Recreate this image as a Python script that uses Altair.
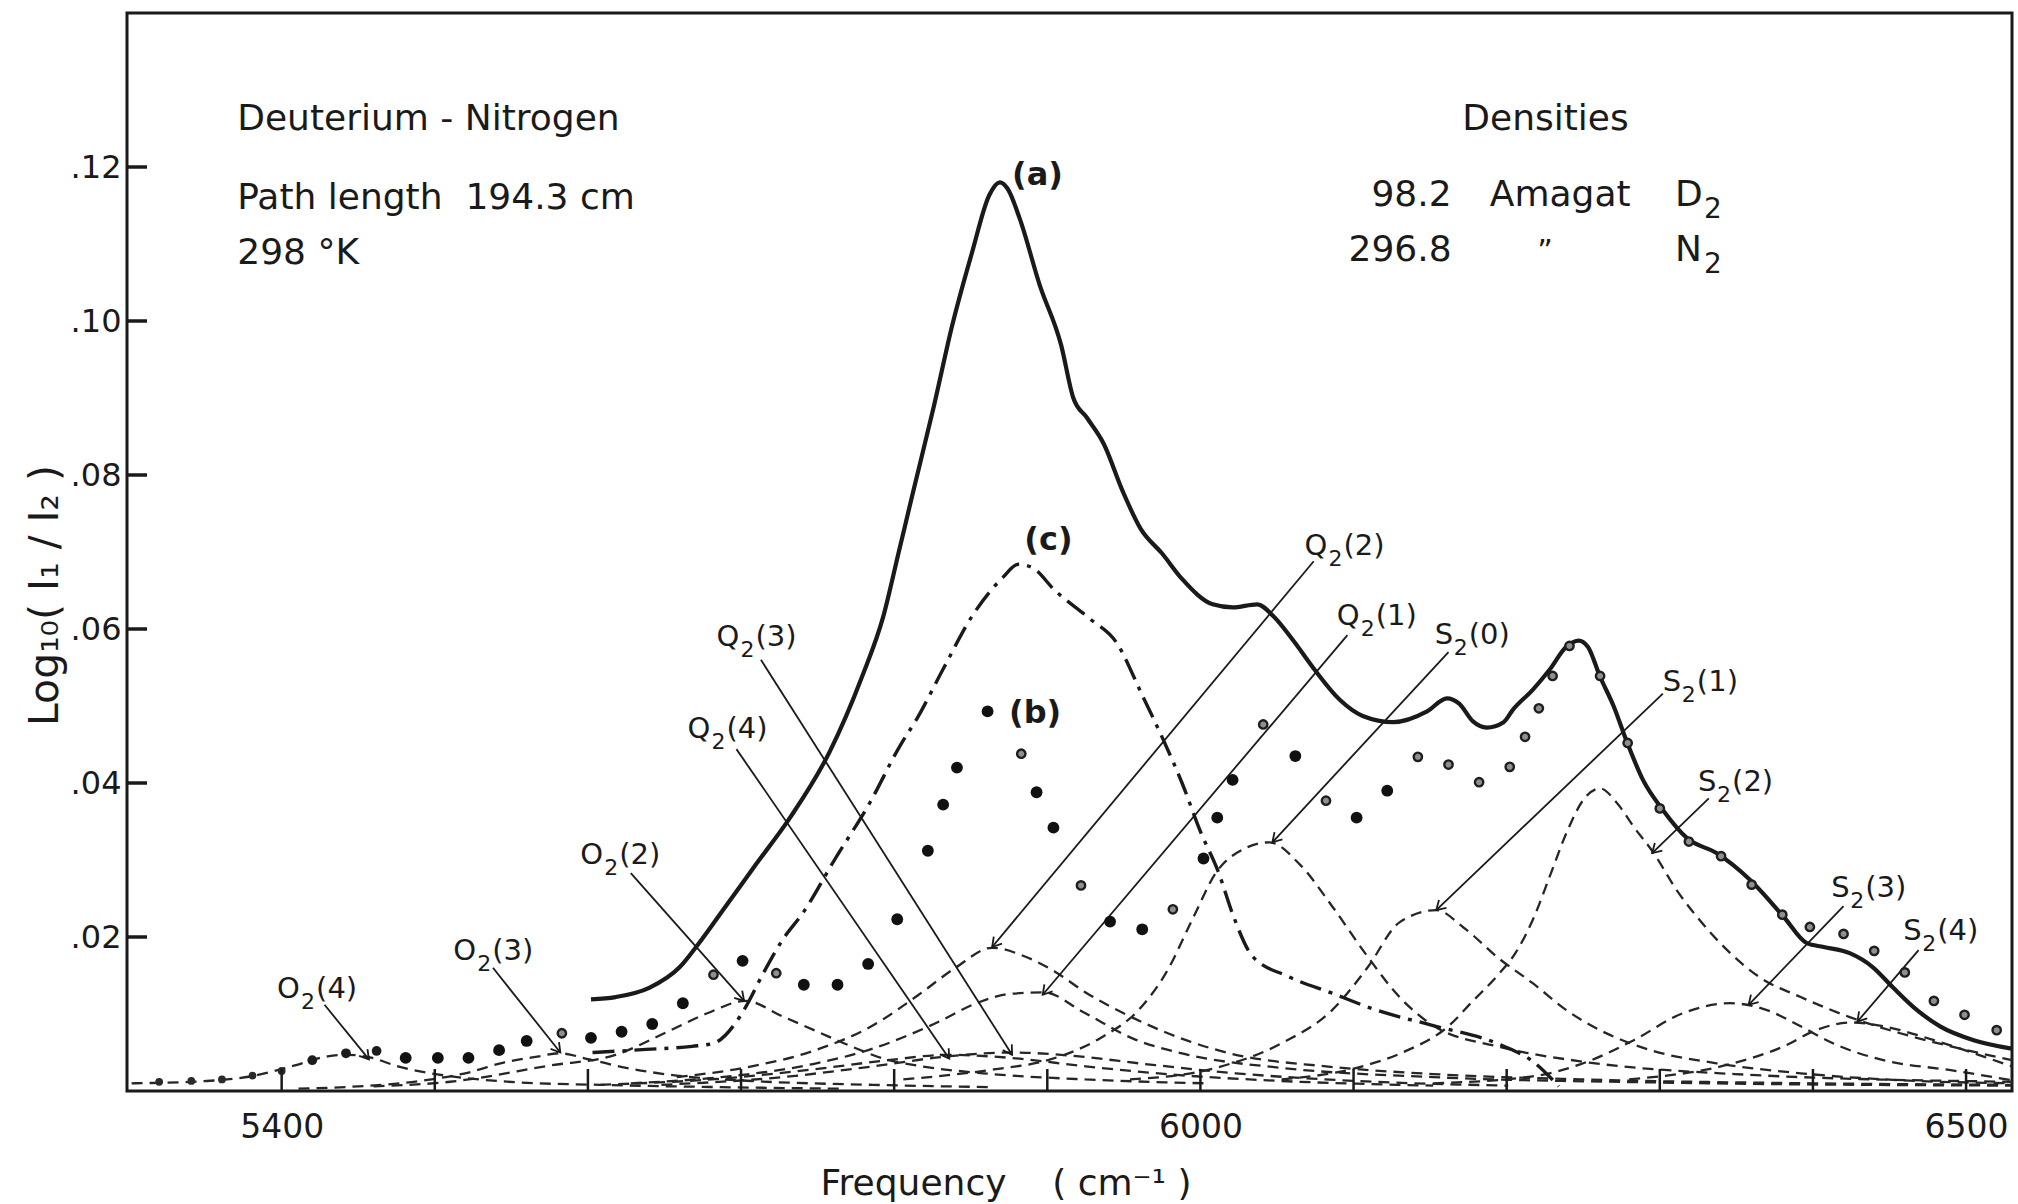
import math
import altair as alt
import pandas as pd

# ---------------- axes ----------------
X_DOMAIN = [5299, 6530]
Y_DOMAIN = [0, 0.14]
X_LABEL_VALUES = [5400, 6000, 6500]
X_TICK_VALUES = [5400, 5500, 5600, 5700, 5800, 5900, 6000, 6100, 6200, 6300, 6400, 6500]
Y_TICK_VALUES = [0.02, 0.04, 0.06, 0.08, 0.10, 0.12]

# ---------------- curve (a): solid ----------------
A_X = [5602, 5618, 5640, 5660, 5671, 5690, 5710, 5732, 5758, 5779, 5793, 5803, 5812, 5826,
       5838, 5851, 5862, 5869, 5874, 5882, 5895, 5909, 5917, 5926, 5937, 5949, 5961, 5975,
       5988, 6008, 6021, 6037, 6048, 6061, 6075, 6091, 6106, 6126, 6148, 6161, 6169, 6178,
       6187, 6198, 6204, 6217, 6228, 6239, 6247, 6253, 6261, 6270, 6278, 6289, 6302, 6318,
       6337, 6359, 6381, 6396, 6407, 6424, 6439, 6452, 6468, 6483, 6505, 6530]
A_Y = [0.0119, 0.0122, 0.0134, 0.0161, 0.0188, 0.0240, 0.0295, 0.0355, 0.0441, 0.0538,
       0.0617, 0.0700, 0.0775, 0.0890, 0.0995, 0.1090, 0.1163, 0.1180, 0.1172, 0.1133,
       0.1047, 0.0969, 0.0900, 0.0874, 0.0840, 0.0780, 0.0730, 0.0698, 0.0665, 0.0632,
       0.0628, 0.0632, 0.0616, 0.0584, 0.0546, 0.0508, 0.0487, 0.0479, 0.0493, 0.0510,
       0.0503, 0.0480, 0.0472, 0.0479, 0.0495, 0.0521, 0.0547, 0.0577, 0.0585, 0.0577,
       0.0538, 0.0499, 0.0456, 0.0404, 0.0365, 0.0328, 0.0309, 0.0274, 0.0226, 0.0192,
       0.0187, 0.0179, 0.0161, 0.0135, 0.0105, 0.0084, 0.0066, 0.0055]

# ---------------- curve (c): dash-dot ----------------
C_X = [5603, 5638, 5668, 5682, 5697, 5703, 5714, 5727, 5741, 5761, 5784, 5804, 5815, 5832,
       5851, 5871, 5881, 5890, 5905, 5928, 5945, 5962, 5976, 5988, 6000, 6012, 6021, 6034,
       6057, 6086, 6115, 6152, 6196, 6218, 6234]
C_Y = [0.0050, 0.0054, 0.0058, 0.0062, 0.0090, 0.0109, 0.0151, 0.0196, 0.0233, 0.0300,
       0.0374, 0.0449, 0.0484, 0.0548, 0.0617, 0.0667, 0.0684, 0.0680, 0.0650, 0.0613,
       0.0583, 0.0514, 0.0455, 0.0400, 0.0337, 0.0283, 0.0230, 0.0175, 0.0149, 0.0127,
       0.0105, 0.0085, 0.0060, 0.0037, 0.0006]

# ---------------- points (b) ----------------
B_X = [5320, 5341, 5361, 5381, 5400, 5420, 5442, 5462, 5481, 5502, 5522, 5542, 5560, 5583,
       5602, 5622, 5642, 5662, 5682, 5701, 5723, 5741, 5763, 5783, 5802, 5822, 5832, 5841,
       5861, 5883, 5893, 5904, 5922, 5941, 5962, 5982, 6002, 6011, 6021, 6041, 6062, 6082,
       6102, 6122, 6142, 6162, 6182, 6202, 6212, 6221, 6230, 6241, 6261, 6279, 6300, 6319,
       6340, 6360, 6380, 6398, 6420, 6440, 6460, 6479, 6499, 6520]
B_Y = [0.0012, 0.0013, 0.0015, 0.0020, 0.0026, 0.0040, 0.0049, 0.0052, 0.0043, 0.0043,
       0.0043, 0.0053, 0.0065, 0.0075, 0.0069, 0.0077, 0.0087, 0.0114, 0.0151, 0.0169,
       0.0153, 0.0138, 0.0138, 0.0165, 0.0223, 0.0312, 0.0372, 0.0420, 0.0493, 0.0438,
       0.0388, 0.0342, 0.0267, 0.0220, 0.0210, 0.0236, 0.0302, 0.0355, 0.0404, 0.0476,
       0.0435, 0.0377, 0.0355, 0.0390, 0.0434, 0.0424, 0.0401, 0.0421, 0.0460, 0.0497,
       0.0539, 0.0578, 0.0539, 0.0452, 0.0367, 0.0324, 0.0305, 0.0268, 0.0229, 0.0213,
       0.0204, 0.0182, 0.0154, 0.0117, 0.0099, 0.0079]
B_KIND = ["small", "small", "small", "small", "small", "mid", "mid", "mid", "big", "big",
          "big", "big", "big", "ring", "big", "big", "big", "big", "ring", "big",
          "ring", "big", "big", "big", "big", "big", "big", "big", "big", "ring",
          "big", "big", "ring", "big", "big", "ring", "big", "big", "big", "ring",
          "big", "ring", "big", "big", "ring", "ring", "ring", "ring", "ring", "ring",
          "ring", "ring", "ring", "ring", "ring", "ring", "ring", "ring", "ring", "ring",
          "ring", "ring", "ring", "ring", "ring", "ring"]

# ---------------- dashed component bands ----------------
O2_4_X = [5302, 5351, 5380, 5410, 5430, 5442, 5457, 5476, 5494, 5511, 5556, 5608, 5687, 5766]
O2_4_Y = [0.0010, 0.0013, 0.0019, 0.0034, 0.0045, 0.0047, 0.0044, 0.0032, 0.0024, 0.0019,
          0.0011, 0.0008, 0.0005, 0.0003]
O2_3_X = [5411, 5450, 5490, 5522, 5545, 5568, 5581, 5601, 5625, 5658, 5707, 5786, 5865]
O2_3_Y = [0.0003, 0.0006, 0.0013, 0.0024, 0.0037, 0.0045, 0.0049, 0.0041, 0.0030, 0.0020,
          0.0013, 0.0008, 0.0005]
O2_2_X = [5460, 5510, 5575, 5618, 5652, 5678, 5703, 5727, 5750, 5772, 5793, 5815, 5858, 5925, 6003]
O2_2_Y = [0.0006, 0.0012, 0.0033, 0.0047, 0.0077, 0.0101, 0.0117, 0.0097, 0.0077, 0.0058,
          0.0042, 0.0033, 0.0023, 0.0015, 0.0010]
Q2_4_X = [5608, 5687, 5747, 5796, 5835, 5876, 5925, 5984, 6053, 6152]
Q2_4_Y = [0.0008, 0.0016, 0.0028, 0.0040, 0.0047, 0.0043, 0.0032, 0.0021, 0.0013, 0.0007]
Q2_3_X = [5648, 5727, 5786, 5835, 5878, 5915, 5964, 6023, 6102, 6201]
Q2_3_Y = [0.0008, 0.0018, 0.0032, 0.0045, 0.0050, 0.0046, 0.0035, 0.0023, 0.0013, 0.0007]
Q2_2_X = [5658, 5707, 5747, 5786, 5816, 5840, 5864, 5885, 5905, 5925, 5956, 5992, 6021, 6082,
          6152, 6250, 6399, 6530]
Q2_2_Y = [0.0018, 0.0032, 0.0052, 0.0085, 0.0125, 0.0160, 0.0186, 0.0175, 0.0155, 0.0128,
          0.0095, 0.0065, 0.0048, 0.0032, 0.0022, 0.0015, 0.0010, 0.0008]
Q2_1_X = [5628, 5687, 5747, 5786, 5826, 5855, 5875, 5898, 5923, 5956, 5992, 6053, 6152, 6300, 6530]
Q2_1_Y = [0.0010, 0.0018, 0.0035, 0.0055, 0.0087, 0.0115, 0.0126, 0.0128, 0.0103, 0.0068,
          0.0047, 0.0030, 0.0018, 0.0011, 0.0007]
S2_0_X = [5806, 5865, 5902, 5934, 5960, 5978, 5995, 6010, 6028, 6045, 6065, 6086, 6109, 6130,
          6152, 6196, 6250, 6349, 6530]
S2_0_Y = [0.0015, 0.0028, 0.0041, 0.0068, 0.0106, 0.0155, 0.0224, 0.0283, 0.0314, 0.0323,
          0.0294, 0.0240, 0.0175, 0.0122, 0.0085, 0.0057, 0.0038, 0.0022, 0.0012]
S2_1_X = [5954, 6010, 6054, 6086, 6109, 6130, 6154, 6172, 6195, 6217, 6239, 6261, 6294, 6337,
          6392, 6457, 6530]
S2_1_Y = [0.0015, 0.0030, 0.0063, 0.0105, 0.0160, 0.0219, 0.0235, 0.0212, 0.0172, 0.0140,
          0.0105, 0.0079, 0.0053, 0.0036, 0.0023, 0.0014, 0.0010]
S2_2_X = [6053, 6102, 6132, 6163, 6177, 6194, 6206, 6217, 6228, 6239, 6250, 6261, 6272, 6283,
          6296, 6311, 6326, 6344, 6365, 6392, 6424, 6457, 6490, 6530]
S2_2_Y = [0.0015, 0.0030, 0.0050, 0.0086, 0.0115, 0.0150, 0.0180, 0.0222, 0.0278, 0.0335,
          0.0378, 0.0393, 0.0374, 0.0343, 0.0309, 0.0261, 0.0222, 0.0183, 0.0148, 0.0122,
          0.0096, 0.0075, 0.0058, 0.0040]
S2_3_X = [6152, 6217, 6250, 6283, 6315, 6346, 6370, 6392, 6413, 6446, 6490, 6530]
S2_3_Y = [0.0010, 0.0019, 0.0036, 0.0066, 0.0101, 0.0114, 0.0105, 0.0084, 0.0062, 0.0040,
          0.0027, 0.0014]
S2_4_X = [6280, 6348, 6381, 6402, 6425, 6446, 6479, 6511, 6530]
S2_4_Y = [0.0015, 0.0036, 0.0058, 0.0079, 0.0089, 0.0084, 0.0066, 0.0045, 0.0032]

COMPONENT_NAMES = ["O2(4)", "O2(3)", "O2(2)", "Q2(4)", "Q2(3)", "Q2(2)", "Q2(1)",
                   "S2(0)", "S2(1)", "S2(2)", "S2(3)", "S2(4)"]
COMPONENT_XS = [O2_4_X, O2_3_X, O2_2_X, Q2_4_X, Q2_3_X, Q2_2_X, Q2_1_X,
                S2_0_X, S2_1_X, S2_2_X, S2_3_X, S2_4_X]
COMPONENT_YS = [O2_4_Y, O2_3_Y, O2_2_Y, Q2_4_Y, Q2_3_Y, Q2_2_Y, Q2_1_Y,
                S2_0_Y, S2_1_Y, S2_2_Y, S2_3_Y, S2_4_Y]

# ---------------- band labels (letter, subscript 2, "(J)") and arrows ----------------
LABEL_LETTER = ["O", "O", "O", "Q", "Q", "Q", "Q", "S", "S", "S", "S", "S"]
LABEL_SUB = ["2"] * 12
LABEL_J = ["(4)", "(3)", "(2)", "(4)", "(3)", "(2)", "(1)", "(0)", "(1)", "(2)", "(3)", "(4)"]
LABEL_X = [5397, 5512, 5595, 5665, 5684, 6068, 6089, 6153, 6302, 6325, 6412, 6459]
LABEL_Y = [0.0121, 0.0170, 0.0295, 0.0459, 0.0578, 0.0696, 0.0605, 0.0581, 0.0519, 0.0389,
           0.0252, 0.0196]
ARROW_X0 = [5428, 5538, 5628, 5697, 5713, 6074, 6096, 6162, 6302, 6332, 6420, 6469]
ARROW_Y0 = [0.0112, 0.0160, 0.0283, 0.0444, 0.0560, 0.0688, 0.0592, 0.0570, 0.0516, 0.0380,
            0.0240, 0.0183]
ARROW_X1 = [5457, 5582, 5702, 5836, 5877, 5864, 5897, 6047, 6154, 6295, 6358, 6429]
ARROW_Y1 = [0.0041, 0.0050, 0.0117, 0.0042, 0.0047, 0.0187, 0.0125, 0.0323, 0.0235, 0.0309,
            0.0112, 0.0090]

TAG_TEXT = ["(a)", "(b)", "(c)"]
TAG_X = [5877, 5875, 5885]
TAG_Y = [0.1176, 0.0478, 0.0703]

# ---------------- header text ----------------
NB = "\u00a0"
INFO_LEFT_TEXT = ["Deuterium - Nitrogen", "Path" + NB + "length" + NB + NB + "194.3" + NB + "cm",
                  "298" + NB + "°K", "Densities", "Amagat", "D", "N"]
INFO_LEFT_X = [5371, 5371, 5371, 6171, 6189, 6310, 6310]
INFO_LEFT_Y = [0.1248, 0.1146, 0.1074, 0.1248, 0.1149, 0.1149, 0.1078]
INFO_SUB_TEXT = ["2", "2"]
INFO_SUB_X = [6310, 6310]
INFO_SUB_Y = [0.1149, 0.1078]
INFO_RIGHT_TEXT = ["98.2", "296.8"]
INFO_RIGHT_X = [6164, 6164]
INFO_RIGHT_Y = [0.1149, 0.1078]
INFO_CENTER_TEXT = ["\u201d"]
INFO_CENTER_X = [6225]
INFO_CENTER_Y = [0.1078]

# ---------------- layout / style ----------------
W, H = 1885, 1078
FONT = "DejaVu Sans"
INK = "#1a1a1a"
LBL = 29      # band-label font size
SUB = 22      # band-label subscript size

xscale = alt.Scale(domain=X_DOMAIN, nice=False, zero=False)
yscale = alt.Scale(domain=Y_DOMAIN, nice=False, zero=False)
XAXIS = alt.Axis(values=X_LABEL_VALUES, format="d", grid=False, domain=False, ticks=False,
                 labelFontSize=33, labelPadding=20, labelFont=FONT, labelColor=INK,
                 title="Frequency" + NB * 4 + "(" + NB + "cm⁻¹" + NB + ")",
                 titleFont=FONT, titleFontSize=36,
                 titleFontWeight="normal", titleColor=INK, titleAnchor="start",
                 titleX=693, titleY=103, titleBaseline="alphabetic")
YAXIS = alt.Axis(values=Y_TICK_VALUES, grid=False, domain=False, ticks=False,
                 labelExpr="replace(format(datum.value, '.2f'), '0.', '.')",
                 labelFontSize=32, labelPadding=6, labelFont=FONT, labelColor=INK,
                 title="Log₁₀(" + NB + "I₁" + NB + "/" + NB + "I₂" + NB + ")",
                 titleFont=FONT, titleFontSize=41,
                 titleFontWeight="normal", titleColor=INK, titleAngle=270,
                 titleX=-70, titleY=582, titleAlign="center", titleBaseline="alphabetic")


def X(field):
    return alt.X(f"{field}:Q", scale=xscale, axis=XAXIS)


def Y(field):
    return alt.Y(f"{field}:Q", scale=yscale, axis=YAXIS)


# ---------------- data frames ----------------
comp_rows = []
for name, xs, ys in zip(COMPONENT_NAMES, COMPONENT_XS, COMPONENT_YS):
    for i, (xv, yv) in enumerate(zip(xs, ys)):
        comp_rows.append({"comp": name, "i": i, "x": xv, "y": yv})
comp_df = pd.DataFrame(comp_rows)
a_df = pd.DataFrame({"x": A_X, "y": A_Y, "i": range(len(A_X))})
c_df = pd.DataFrame({"x": C_X, "y": C_Y, "i": range(len(C_X))})
b_df = pd.DataFrame({"x": B_X, "y": B_Y, "kind": B_KIND})

sx = W / (X_DOMAIN[1] - X_DOMAIN[0])
sy = H / (Y_DOMAIN[1] - Y_DOMAIN[0])
angles = [math.degrees(math.atan2(-(y1 - y0) * sy, (x1 - x0) * sx)) % 360
          for x0, y0, x1, y1 in zip(ARROW_X0, ARROW_Y0, ARROW_X1, ARROW_Y1)]
arrow_df = pd.DataFrame({"x0": ARROW_X0, "y0": ARROW_Y0, "x1": ARROW_X1, "y1": ARROW_Y1,
                         "ang": angles})
label_df = pd.DataFrame({"x": LABEL_X, "y": LABEL_Y, "letter": LABEL_LETTER,
                         "sub": LABEL_SUB, "j": LABEL_J})
tag_df = pd.DataFrame({"x": TAG_X, "y": TAG_Y, "t": TAG_TEXT})
info_l = pd.DataFrame({"x": INFO_LEFT_X, "y": INFO_LEFT_Y, "t": INFO_LEFT_TEXT})
info_s = pd.DataFrame({"x": INFO_SUB_X, "y": INFO_SUB_Y, "t": INFO_SUB_TEXT})
info_r = pd.DataFrame({"x": INFO_RIGHT_X, "y": INFO_RIGHT_Y, "t": INFO_RIGHT_TEXT})
info_c = pd.DataFrame({"x": INFO_CENTER_X, "y": INFO_CENTER_Y, "t": INFO_CENTER_TEXT})
xt_df = pd.DataFrame({"x": X_TICK_VALUES})
yt_df = pd.DataFrame({"y": Y_TICK_VALUES})

# ---------------- layers ----------------
components = alt.Chart(comp_df).mark_line(
    strokeDash=[11, 7], strokeWidth=2.3, color="#262626", interpolate="monotone", clip=True
).encode(x=X("x"), y=Y("y"), detail="comp:N", order="i:Q")

curve_c = alt.Chart(c_df).mark_line(
    strokeDash=[22, 8, 4, 8], strokeWidth=3.4, color=INK, interpolate="monotone", clip=True
).encode(x=X("x"), y=Y("y"), order="i:Q")

curve_a = alt.Chart(a_df).mark_line(
    strokeWidth=4.2, color=INK, interpolate="monotone", clip=True
).encode(x=X("x"), y=Y("y"), order="i:Q")

arrows = alt.Chart(arrow_df).mark_rule(strokeWidth=1.8, color=INK).encode(
    x=X("x0"), y=Y("y0"), x2="x1:Q", y2="y1:Q")

heads = alt.Chart(arrow_df).mark_point(
    shape="M -1 -0.6 L 0 0 L -1 0.6", filled=False, strokeWidth=1.8, color=INK, size=320,
    opacity=1
).encode(x=X("x1"), y=Y("y1"), angle=alt.Angle("ang:Q", scale=None))

dots_big = alt.Chart(b_df).transform_filter(alt.datum.kind == "big").mark_circle(
    size=140, color="#111111", opacity=1).encode(x=X("x"), y=Y("y"))
dots_mid = alt.Chart(b_df).transform_filter(alt.datum.kind == "mid").mark_circle(
    size=95, color="#1c1c1c", opacity=1).encode(x=X("x"), y=Y("y"))
dots_small = alt.Chart(b_df).transform_filter(alt.datum.kind == "small").mark_circle(
    size=60, color="#2a2a2a", opacity=1).encode(x=X("x"), y=Y("y"))
dots_ring = alt.Chart(b_df).transform_filter(alt.datum.kind == "ring").mark_point(
    shape="circle", filled=True, fill="#8f8f8f", stroke="#1e1e1e", strokeWidth=2.4,
    size=70, opacity=1).encode(x=X("x"), y=Y("y"))

# band labels: letter, dropped subscript "2" just after it, then "(J)" after the subscript
label_base = alt.Chart(label_df)
is_s = alt.datum.letter == "S"
not_s = alt.datum.letter != "S"
lab_letter = label_base.mark_text(
    align="left", baseline="alphabetic", fontSize=LBL, font=FONT, color=INK
).encode(x=X("x"), y=Y("y"), text="letter:N")
lab_sub_oq = label_base.transform_filter(not_s).mark_text(
    align="left", baseline="alphabetic", fontSize=SUB, font=FONT, color=INK, dx=24, dy=11
).encode(x=X("x"), y=Y("y"), text="sub:N")
lab_sub_s = label_base.transform_filter(is_s).mark_text(
    align="left", baseline="alphabetic", fontSize=SUB, font=FONT, color=INK, dx=19, dy=11
).encode(x=X("x"), y=Y("y"), text="sub:N")
lab_j_oq = label_base.transform_filter(not_s).mark_text(
    align="left", baseline="alphabetic", fontSize=LBL, font=FONT, color=INK, dx=39
).encode(x=X("x"), y=Y("y"), text="j:N")
lab_j_s = label_base.transform_filter(is_s).mark_text(
    align="left", baseline="alphabetic", fontSize=LBL, font=FONT, color=INK, dx=34
).encode(x=X("x"), y=Y("y"), text="j:N")

tags = alt.Chart(tag_df).mark_text(
    align="left", baseline="alphabetic", fontSize=32, font=FONT, color=INK, fontWeight="bold"
).encode(x=X("x"), y=Y("y"), text="t:N")

info_left = alt.Chart(info_l).mark_text(
    align="left", baseline="alphabetic", fontSize=36, font=FONT, color=INK
).encode(x=X("x"), y=Y("y"), text="t:N")
info_sub = alt.Chart(info_s).mark_text(
    align="left", baseline="alphabetic", fontSize=28, font=FONT, color=INK, dx=29, dy=12
).encode(x=X("x"), y=Y("y"), text="t:N")
info_right = alt.Chart(info_r).mark_text(
    align="right", baseline="alphabetic", fontSize=36, font=FONT, color=INK
).encode(x=X("x"), y=Y("y"), text="t:N")
info_center = alt.Chart(info_c).mark_text(
    align="center", baseline="alphabetic", fontSize=30, font=FONT, color=INK
).encode(x=X("x"), y=Y("y"), text="t:N")

xticks = alt.Chart(xt_df).mark_rule(strokeWidth=2.5, color=INK).encode(
    x=X("x"), y=alt.value(H), y2=alt.value(H - 22))
yticks = alt.Chart(yt_df).mark_rule(strokeWidth=3.5, color=INK).encode(
    y=Y("y"), x=alt.value(0), x2=alt.value(20))

chart = alt.layer(
    components, curve_c, curve_a, arrows, heads,
    dots_small, dots_mid, dots_big, dots_ring,
    lab_letter, lab_sub_oq, lab_sub_s, lab_j_oq, lab_j_s,
    tags, info_left, info_sub, info_right, info_center, xticks, yticks
).properties(
    width=W, height=H,
    padding={"left": 127, "top": 13, "right": 6, "bottom": 113},
    autosize=alt.AutoSizeParams(type="none"),
    background="white",
).configure_view(stroke=INK, strokeWidth=3)

chart.save("out.html", embed_options={"renderer": "svg", "actions": False})
